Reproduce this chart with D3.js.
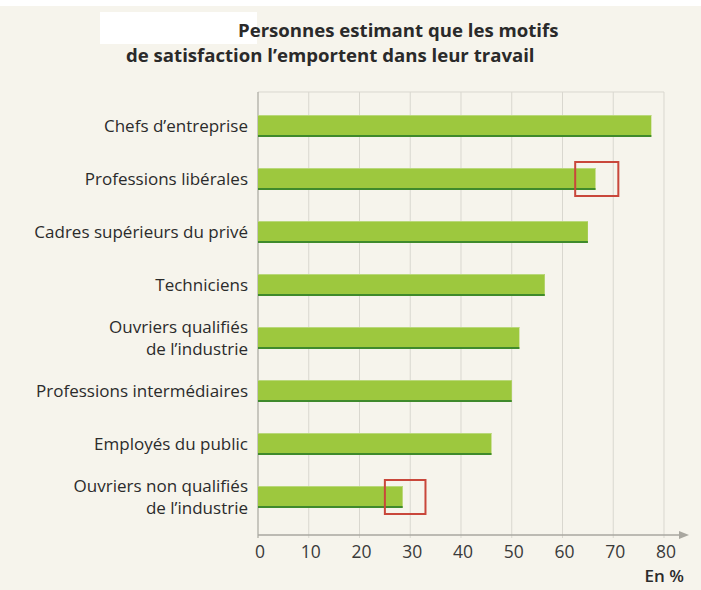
<!DOCTYPE html>
<html lang="fr">
<head>
<meta charset="UTF-8">
<script src="https://cdn.jsdelivr.net/npm/d3@7"></script>
<title>Motifs de satisfaction</title>
<style>
    body { margin: 0; background: #f6f4ec; }
    svg { display: block; }
    text { font-family: "Open Sans", sans-serif; fill: #2b2b2b; }
    .lab { font-size: 17px; text-anchor: end; }
    .tick { font-size: 17.5px; text-anchor: middle; fill: #3a3a3a; }
    .title { font-size: 18.6px; font-weight: bold; fill: #2a2a2a; }
</style>
</head>
<body>
<svg width="701" height="590"></svg>
<script>
    // data
    const categories = [
        ["Chefs d\u2019entreprise"],
        ["Professions lib\u00e9rales"],
        ["Cadres sup\u00e9rieurs du priv\u00e9"],
        ["Techniciens"],
        ["Ouvriers qualifi\u00e9s", "de l\u2019industrie"],
        ["Professions interm\u00e9diaires"],
        ["Employ\u00e9s du public"],
        ["Ouvriers non qualifi\u00e9s", "de l\u2019industrie"]
    ];
    const values = [77.5, 66.5, 65, 56.5, 51.5, 50, 46, 28.5];
    const ticks = [0, 10, 20, 30, 40, 50, 60, 70, 80];
    // red frames: index of bar, and the span in %
    const boxes = [[1, 62.5, 71], [7, 25, 33]];

    const svg = d3.select("svg");

    svg.append("rect").attr("x", 0).attr("y", 0).attr("width", 701).attr("height", 6).attr("fill", "#fff");
    svg.append("rect").attr("x", 100).attr("y", 12).attr("width", 157).attr("height", 32).attr("fill", "#fff");

    svg.append("text").attr("class", "title").attr("x", 238).attr("y", 37)
        .text("Personnes estimant que les motifs");
    svg.append("text").attr("class", "title").attr("x", 126).attr("y", 62)
        .text("de satisfaction l\u2019emportent dans leur travail");

    const x = d3.scaleLinear().domain([0, 80]).range([258, 664]);
    const y = d3.scaleBand().domain(d3.range(categories.length))
        .range([99.5, 523.5]).paddingInner(0.585).paddingOuter(0.2925);

    const plotTop = 92, base = 535;

    // grid
    svg.append("g").selectAll("line").data(ticks.slice(1)).join("line")
        .attr("x1", d => x(d)).attr("x2", d => x(d))
        .attr("y1", plotTop).attr("y2", base + 3)
        .attr("stroke", "#d9d7cf").attr("stroke-width", 1);
    svg.append("line").attr("x1", x(0)).attr("x2", x(80)).attr("y1", plotTop).attr("y2", plotTop)
        .attr("stroke", "#d9d7cf");
    svg.append("line").attr("x1", x(0)).attr("x2", x(0)).attr("y1", plotTop).attr("y2", base + 3)
        .attr("stroke", "#a9a7a0").attr("stroke-width", 1.2);

    // bars
    const g = svg.append("g");
    g.selectAll("rect.bar").data(values).join("rect").attr("class", "bar")
        .attr("x", x(0)).attr("y", (d, i) => y(i))
        .attr("width", d => x(d) - x(0)).attr("height", y.bandwidth())
        .attr("fill", "#9dc83e");
    g.selectAll("line.hi").data(values).join("line").attr("class", "hi")
        .attr("x1", x(0)).attr("x2", d => x(d))
        .attr("y1", (d, i) => y(i) + 0.5).attr("y2", (d, i) => y(i) + 0.5)
        .attr("stroke", "#b9d87a").attr("stroke-width", 1);
    g.selectAll("line.lo").data(values).join("line").attr("class", "lo")
        .attr("x1", x(0)).attr("x2", d => x(d))
        .attr("y1", (d, i) => y(i) + y.bandwidth() - 1).attr("y2", (d, i) => y(i) + y.bandwidth() - 1)
        .attr("stroke", "#3f8a2c").attr("stroke-width", 2);

    // category labels
    svg.append("g").selectAll("text").data(categories).join("text")
        .attr("class", "lab")
        .attr("x", 248)
        .attr("y", (d, i) => y(i) + y.bandwidth() / 2 + 6 - (d.length - 1) * 11)
        .selectAll("tspan").data(d => d).join("tspan")
        .attr("x", 248).attr("dy", (d, i) => i ? 22 : 0)
        .text(d => d);

    // red frames
    svg.append("g").selectAll("rect").data(boxes).join("rect")
        .attr("x", d => x(d[1])).attr("width", d => x(d[2]) - x(d[1]))
        .attr("y", d => y(d[0]) - 6).attr("height", y.bandwidth() + 12)
        .attr("fill", "none").attr("stroke", "#c9473b").attr("stroke-width", 2);

    // x axis with arrow
    svg.append("line").attr("x1", x(0)).attr("x2", 684).attr("y1", base).attr("y2", base)
        .attr("stroke", "#a9a7a0").attr("stroke-width", 1.5);
    svg.append("path").attr("d", `M679,${base - 4}L689,${base}L679,${base + 4}Z`).attr("fill", "#a9a7a0");
    svg.append("g").selectAll("text").data(ticks).join("text")
        .attr("class", "tick").attr("x", d => x(d) + 2).attr("y", base + 23)
        .text(d => d);
    svg.append("text").attr("x", 684).attr("y", 582).attr("text-anchor", "end")
        .style("font-size", "17px").style("font-weight", "600").text("En %");
</script>
</body>
</html>
